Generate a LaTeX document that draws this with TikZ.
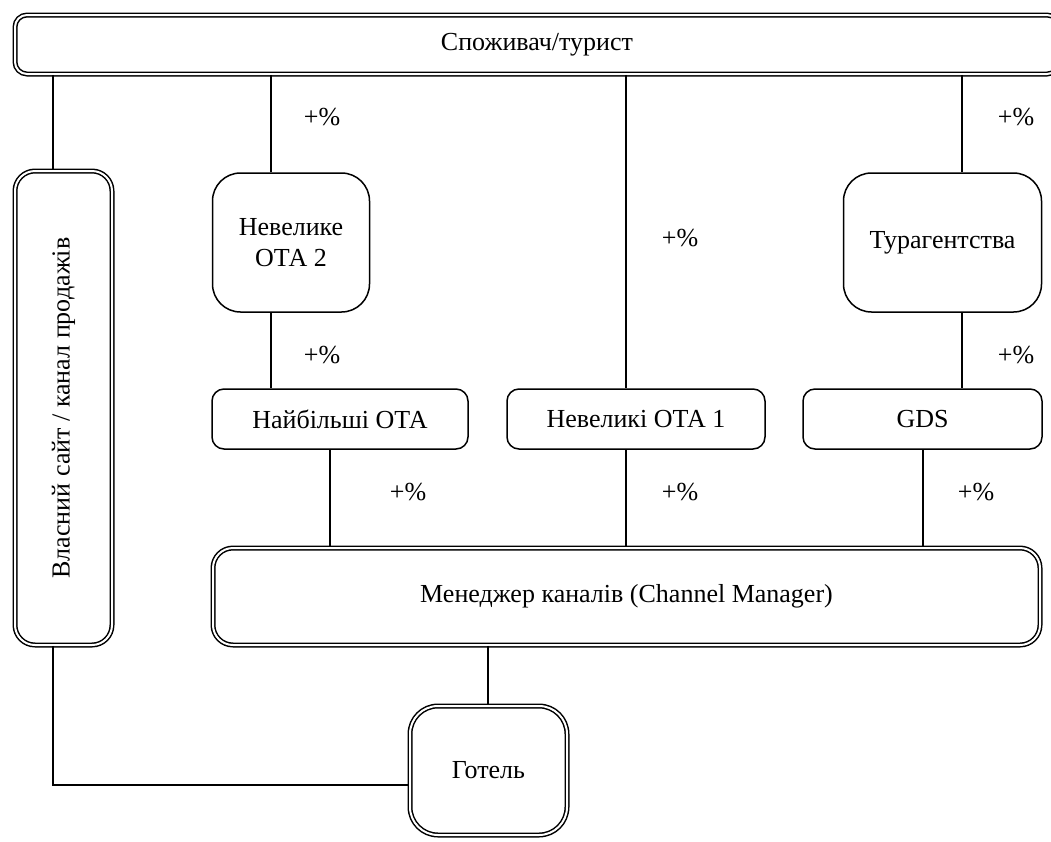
\documentclass[tikz,border=0pt]{standalone}
\usepackage{fontspec}
\setmainfont{Liberation Serif}
\tikzset{
  dbox/.style={draw, double, line width=1.5pt, double distance=2pt, inner sep=0pt, align=center},
  sbox/.style={draw, line width=1.5pt, inner sep=0pt, align=center},
  link/.style={line width=1.2pt}
}
\begin{document}
\begin{tikzpicture}[x=1pt,y=-1pt,every node/.append style={font=\fontsize{26}{31}\selectfont}]
    \useasboundingbox (0,0) rectangle (1051,841);
    % boxes
    \node[dbox, rounded corners=12pt, minimum width=1044pt, minimum height=59pt] (top) at (537,44.5) {Споживач/турист};
    \node[dbox, rounded corners=20pt, minimum width=97pt, minimum height=474pt] (site) at (63.5,408) {};
    \node[rotate=90] (sitetext) at (site.center) {Власний сайт / канал продажів};
    \node[sbox, rounded corners=28pt, minimum width=157pt, minimum height=139pt] (ota2) at (291,242.5) {Невелике\\ОТА 2};
    \node[sbox, rounded corners=28pt, minimum width=198pt, minimum height=139pt] (tur) at (942.5,242.5) {Турагентства};
    \node[sbox, rounded corners=12pt, minimum width=256pt, minimum height=60pt] (big) at (340,419) {Найбільші ОТА};
    \node[sbox, rounded corners=12pt, minimum width=258pt, minimum height=60pt] (small) at (636,419) {Невеликі ОТА 1};
    \node[sbox, rounded corners=12pt, minimum width=239pt, minimum height=60pt] (gds) at (922.5,419) {GDS};
    \node[dbox, rounded corners=20pt, minimum width=827pt, minimum height=97pt] (cm) at (626.5,596.5) {Менеджер каналів (Channel Manager)};
    \node[dbox, rounded corners=28pt, minimum width=157pt, minimum height=129pt] (hotel) at (488.5,770.5) {Готель};
    % links
    \draw[link] (53,0 |- top.south) -- (53,0 |- site.north);
    \draw[link] (271,0 |- top.south) -- (271,0 |- ota2.north);
    \draw[link] (271,0 |- ota2.south) -- (271,0 |- big.north);
    \draw[link] (626,0 |- top.south) -- (626,0 |- small.north);
    \draw[link] (626,0 |- small.south) -- (626,0 |- cm.north);
    \draw[link] (962,0 |- top.south) -- (962,0 |- tur.north);
    \draw[link] (962,0 |- tur.south) -- (962,0 |- gds.north);
    \draw[link] (330,0 |- big.south) -- (330,0 |- cm.north);
    \draw[link] (923,0 |- gds.south) -- (923,0 |- cm.north);
    \draw[link] (488,0 |- cm.south) -- (488,0 |- hotel.north);
    \draw[link] (53,0 |- site.south) |- (hotel.west |- 0,785);
    % margins
    \foreach \px/\py/\n in {322/117/pa, 1016/117/pb, 680/238/pc, 322/355/pd, 1016/355/pe, 408/492/pf, 680/492/pg, 976/492/ph}
      \node (\n) at (\px,\py) {+\%};
\end{tikzpicture}
\end{document}
